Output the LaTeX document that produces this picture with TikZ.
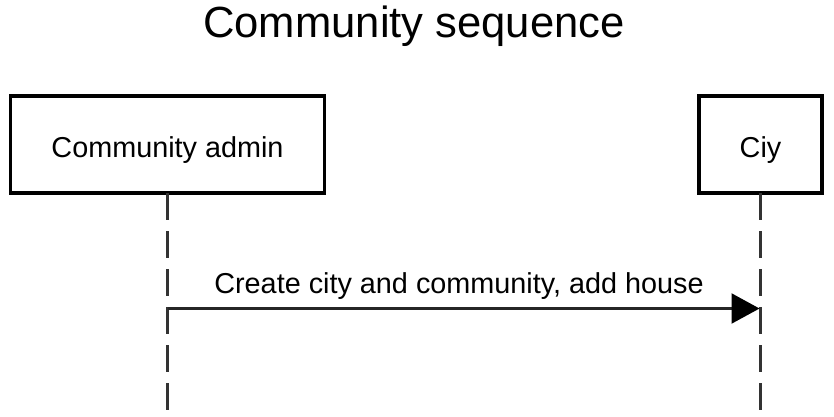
\documentclass[tikz,border=0pt]{standalone}
\usepackage{fontspec}
\setmainfont{Liberation Sans}
\usetikzlibrary{arrows.meta}
\begin{document}
\begin{tikzpicture}[x=1pt,y=-1pt,
  actor/.style={draw=black, line width=3.8pt, inner sep=0pt, outer sep=0pt, minimum height=97pt},
  txt/.style={anchor=base, inner sep=0pt, font=\fontsize{28.8}{34}\selectfont},
  lifeline/.style={draw=black!80, line width=2.4pt, dash pattern=on 27pt off 11pt},
  msg/.style={draw=black!85, line width=2.2pt, -{Triangle[length=28pt,width=30pt,color=black]}},
]
\useasboundingbox (0,0) rectangle (834,416);

% title
\node[anchor=base, inner sep=0pt, font=\fontsize{43.6}{52}\selectfont] (title) at (414,37) {Community sequence};

% participants
\node[actor, minimum width=314pt] (admin) at (167.5,144.5) {};
\node[actor, minimum width=123pt] (city) at (760.5,144.5) {};
\node[txt] (adminlbl) at (167.5,157.5) {Community admin};
\node[txt] (citylbl) at (760.5,157.5) {Ciy};

% lifelines
\coordinate (adminend) at (167.5,416);
\coordinate (cityend) at (760.5,416);
\draw[lifeline] (admin.south) -- (adminend);
\draw[lifeline] (city.south) -- (cityend);

% message
\coordinate (m1s) at (167.5,308.5);
\coordinate (m1e) at (759.5,308.5);
\draw[msg] (m1s) -- (m1e);
\node[txt] (m1lbl) at (459,293) {Create city and community, add house};
\end{tikzpicture}
\end{document}
